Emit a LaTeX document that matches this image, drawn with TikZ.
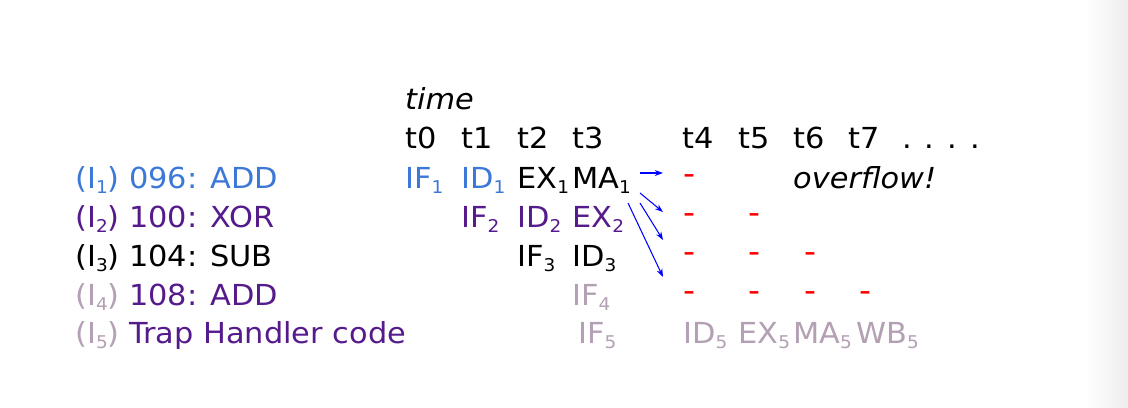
\documentclass[tikz,border=0pt]{standalone}
\usepackage{fontspec}
\setmainfont[FakeStretch=1.05]{DejaVu Sans}
\usetikzlibrary{arrows.meta}

\definecolor{instblue}{HTML}{3C78D8}
\definecolor{instpurple}{HTML}{551A8B}
\definecolor{instmauve}{HTML}{B4A0B4}
\newcommand{\lowidx}[1]{\raisebox{-0.2em}{\fontsize{15pt}{15pt}\selectfont #1}}

\begin{document}
\begin{tikzpicture}[
    x=0.03cm, y=-0.03cm,
    cell/.style={
        anchor=base west, inner sep=0pt,
        font=\fontsize{24.7pt}{30pt}\selectfont
    },
    hdr/.style={cell, text=black},
    stall/.style={cell, anchor=base, text=red, font=\fontsize{27pt}{30pt}\selectfont},
    flow/.style={-{Stealth[length=7pt, width=5pt]}, draw=blue, line width=0.9pt}
]

\fill[white] (0,0) rectangle (1128,407);
\shade[left color=white, right color=black!7] (1085,0) rectangle (1128,407);
\useasboundingbox (0,0) rectangle (1128,407);

% instruction labels
\node[cell, text=instblue]   (lab1) at (75,188) {(I\lowidx{1}) 096: ADD};
\node[cell, text=instpurple] (lab2) at (75,227) {(I\lowidx{2}) 100: XOR};
\node[cell, text=black]      (lab3) at (75,266) {(I\lowidx{3}) 104: SUB};
\node[cell, text=instpurple] (lab4) at (75,305) {{\color{instmauve}(I\lowidx{4})} 108: ADD};
\node[cell, text=instpurple] (lab5) at (75,343) {{\color{instmauve}(I\lowidx{5})} Trap Handler code};

% time axis
\node[hdr] (time) at (405,109) {\itshape time};
\node[hdr] (t0)   at (405,148) {t0};
\node[hdr] (t1)   at (461,148) {t1};
\node[hdr] (t2)   at (517,148) {t2};
\node[hdr] (t3)   at (572,148) {t3};
\node[hdr] (t4)   at (682,148) {t4};
\node[hdr] (t5)   at (738,148) {t5};
\node[hdr] (t6)   at (793,148) {t6};
\node[hdr] (t7)   at (848,148) {t7};
\node[hdr] (dots) at (902,148) {.\hspace{0.45em}.\hspace{0.45em}.\hspace{0.45em}.};

% pipeline stages
\node[cell, text=instblue]   (if1) at (405,188) {IF\lowidx{1}};
\node[cell, text=instblue]   (id1) at (461,188) {ID\lowidx{1}};
\node[cell, text=black]      (ex1) at (517,188) {EX\lowidx{1}};
\node[cell, text=black]      (ma1) at (572,188) {MA\lowidx{1}};
\node[cell, text=instpurple] (if2) at (461,227) {IF\lowidx{2}};
\node[cell, text=instpurple] (id2) at (517,227) {ID\lowidx{2}};
\node[cell, text=instpurple] (ex2) at (572,227) {EX\lowidx{2}};
\node[cell, text=black]      (if3) at (517,266) {IF\lowidx{3}};
\node[cell, text=black]      (id3) at (572,266) {ID\lowidx{3}};
\node[cell, text=instmauve]  (if4) at (572,305) {IF\lowidx{4}};
\node[cell, text=instmauve]  (if5) at (578,343) {IF\lowidx{5}};
\node[cell, text=instmauve]  (id5) at (683,343) {ID\lowidx{5}};
\node[cell, text=instmauve]  (ex5) at (738,343) {EX\lowidx{5}};
\node[cell, text=instmauve]  (ma5) at (793,343) {MA\lowidx{5}};
\node[cell, text=instmauve]  (wb5) at (856,343) {WB\lowidx{5}};

\node[hdr] (ovf) at (793,188) {\itshape overflow!};

% killed slots
\node[stall] (k14) at (689,184) {-};
\node[stall] (k24) at (689,223) {-};
\node[stall] (k25) at (754,223) {-};
\node[stall] (k34) at (689,262) {-};
\node[stall] (k35) at (754,262) {-};
\node[stall] (k36) at (810,262) {-};
\node[stall] (k44) at (689,301) {-};
\node[stall] (k45) at (754,301) {-};
\node[stall] (k46) at (810,301) {-};
\node[stall] (k47) at (865,301) {-};

% flush arrows
\coordinate (s1) at (640,173);  \coordinate (e1) at (663,173);
\coordinate (s2) at (640,193);  \coordinate (e2) at (663,212);
\coordinate (s3) at (640,203);  \coordinate (e3) at (663,240);
\coordinate (s4) at (628,203);  \coordinate (e4) at (663,277);

\draw[flow] (s1) -- (e1);
\draw[flow] (s2) -- (e2);
\draw[flow] (s3) -- (e3);
\draw[flow] (s4) -- (e4);

\end{tikzpicture}
\end{document}
